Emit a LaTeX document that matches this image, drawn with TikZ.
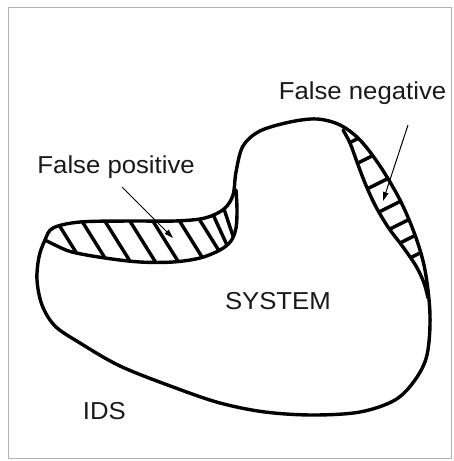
\documentclass[tikz,border=0pt]{standalone}
\usepackage{fontspec}
\newfontfamily\labfont{Liberation Sans}[FakeStretch=1.05]
\usetikzlibrary{arrows.meta}
\begin{document}
\begin{tikzpicture}[x=1pt,y=-1pt,
  outline/.style={line width=3.4pt, line join=round, line cap=round},
  hatchline/.style={line width=3.4pt},
  pointer/.style={line width=1pt, -{Triangle[length=9pt,width=5.5pt]}},
  lab/.style={font=\labfont\fontsize{24.5}{29}\selectfont, text=black!90, inner sep=0pt, anchor=base west},
  frame/.style={draw=black!30, line width=0.7pt}]
\useasboundingbox (0,0) rectangle (454,461);
\draw[frame] (8,7) rectangle (451,458);

% IDS boundary
\path[save path=\idsP] plot[smooth cycle, tension=0.55] coordinates {
 (53,228) (80,222) (130,221) (175,221) (205,218) (224,209) (233,195) (236,172)
 (243,146) (260,131) (290,122) (317,119) (340,125) (360,140) (380,166) (400,200)
 (415,235) (425,270) (430,315) (427,355) (415,380) (395,400) (360,412) (313,415)
 (265,412) (220,403) (173,387) (120,366) (80,343) (55,326) (42,305) (37,280)
 (39,257) (45,240)};

% false positive hatching
\begin{scope}
 \clip[use path=\idsP];
 \clip (0,240) -- (45,240) -- plot[smooth, tension=0.55] coordinates {
  (45,240) (55,245) (72,252) (105,258) (140,262) (173,262) (200,258) (220,250)
  (231,241) (236,228) (237,210) (236,190)} -- (236,100) -- (0,100) -- cycle;
 \draw[hatchline] (54,217) -- (84,265);
 \draw[hatchline] (80,218) -- (110,266);
 \draw[hatchline] (103,218) -- (133,266);
 \draw[hatchline] (128,218) -- (158,266);
 \draw[hatchline] (151,218) -- (181,266);
 \draw[hatchline] (177,217) -- (207,265);
 \draw[hatchline] (196,214) -- (226,262);
 \draw[hatchline] (210,208) -- (232,256);
 \draw[hatchline] (221,200) -- (237,248);
\end{scope}

% false negative hatching
\begin{scope}
 \clip[use path=\idsP];
 \clip (343,100) -- (343,130) -- plot[smooth, tension=0.55] coordinates {
  (343,130) (350,143) (357,162) (365,183) (375,205) (388,227) (403,247)
  (416,266) (424,283) (428,298)} -- (470,298) -- (470,100) -- cycle;
 \draw[hatchline] (333,151) -- (377,129);
 \draw[hatchline] (342,171) -- (386,149);
 \draw[hatchline] (355,195) -- (399,173);
 \draw[hatchline] (367,218) -- (411,196);
 \draw[hatchline] (376,236) -- (420,214);
 \draw[hatchline] (384,251) -- (428,229);
 \draw[hatchline] (392,267) -- (436,245);
\end{scope}

% SYSTEM boundary deviations
\draw[outline] plot[smooth, tension=0.55] coordinates {
  (45,240) (55,245) (72,252) (105,258) (140,262) (173,262) (200,258) (220,250)
  (231,241) (236,228) (237,210) (236,190)};
\draw[outline] plot[smooth, tension=0.55] coordinates {
  (343,130) (350,143) (357,162) (365,183) (375,205) (388,227) (403,247)
  (416,266) (424,283) (428,298)};

\draw[outline, use path=\idsP];

% labels
\node[lab] (fn) at (278.7,99) {False negative};
\node[lab] (fp) at (37.3,173) {False positive};
\node[lab] (sys) at (224.8,309) {SYSTEM};
\node[lab] (ids) at (82.7,419.5) {IDS};

% pointers
\coordinate (fpFrom) at (122,187);
\coordinate (fpTo) at (173,238);
\coordinate (fnFrom) at (408,125);
\coordinate (fnTo) at (383,201);
\draw[pointer] (fpFrom) -- (fpTo);
\draw[pointer] (fnFrom) -- (fnTo);
\end{tikzpicture}
\end{document}
